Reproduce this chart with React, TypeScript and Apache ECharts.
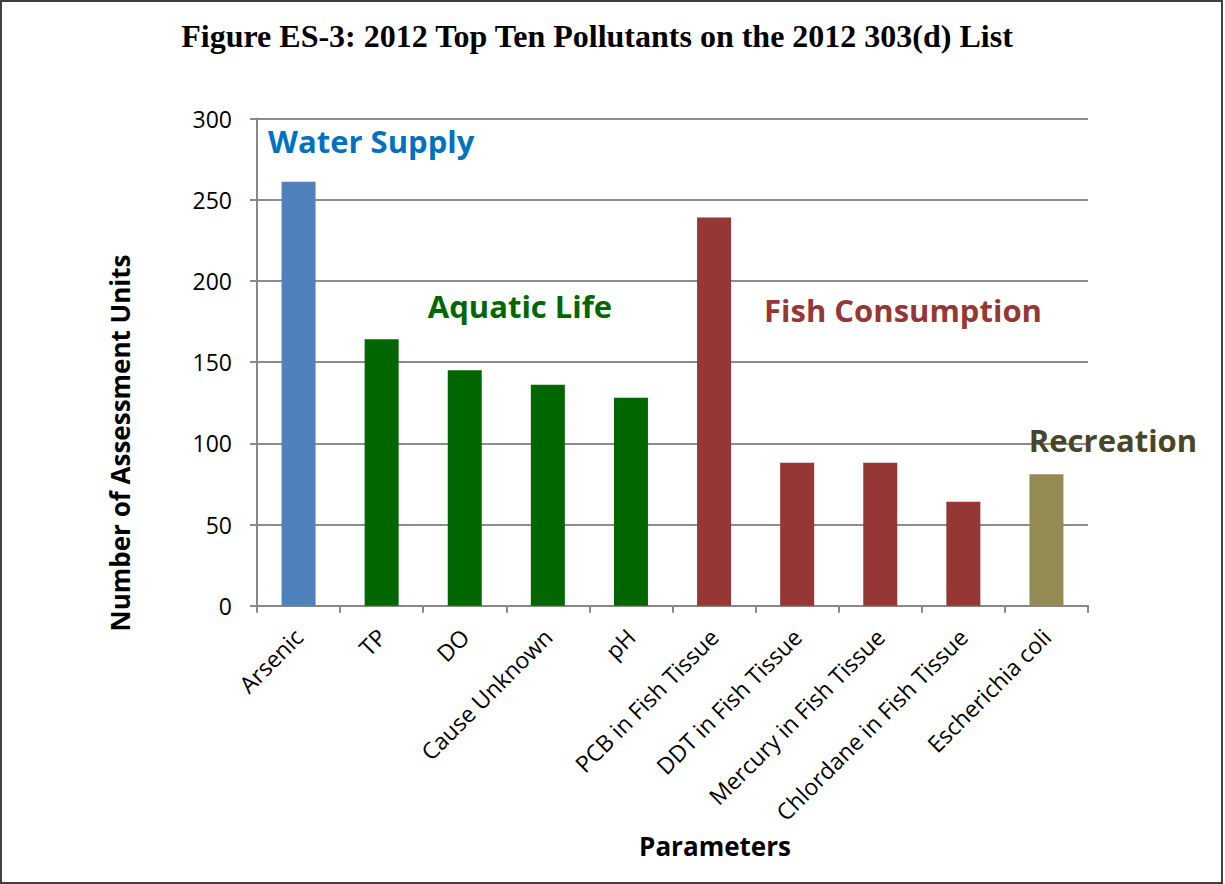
import React, { useEffect, useRef } from "react";
import * as echarts from "echarts";

// Pollutant categories on the 2012 303(d) list
const categories = [
  "Arsenic",
  "TP",
  "DO",
  "Cause Unknown",
  "pH",
  "PCB in Fish Tissue",
  "DDT in Fish Tissue",
  "Mercury in Fish Tissue",
  "Chlordane in Fish Tissue",
  "Escherichia coli",
];

// Number of assessment units listed for each pollutant
const assessmentUnits = [261, 164, 145, 136, 128, 239, 88, 88, 64, 81];

// Designated use impaired by each pollutant
const designatedUse = [
  "Water Supply",
  "Aquatic Life",
  "Aquatic Life",
  "Aquatic Life",
  "Aquatic Life",
  "Fish Consumption",
  "Fish Consumption",
  "Fish Consumption",
  "Fish Consumption",
  "Recreation",
];

const useGroups = ["Water Supply", "Aquatic Life", "Fish Consumption", "Recreation"];

// Value axis range
const yMin = 0;
const yMax = 300;
const yStep = 50;

const titleText = "Figure ES-3: 2012 Top Ten Pollutants on the 2012 303(d) List";
const yAxisTitle = "Number of Assessment Units";
const xAxisTitle = "Parameters";

const barColors: Record<string, string> = {
  "Water Supply": "#4F81BD",
  "Aquatic Life": "#006600",
  "Fish Consumption": "#953735",
  Recreation: "#948A54",
};

const groupTextColors: Record<string, string> = {
  "Water Supply": "#0070C0",
  "Aquatic Life": "#006600",
  "Fish Consumption": "#953735",
  Recreation: "#4A4526",
};

// Where each group heading sits on the canvas
const groupLabelPlacement: Record<string, { x: number; y: number; align: string }> = {
  "Water Supply": { x: 268, y: 141, align: "left" },
  "Aquatic Life": { x: 520, y: 306, align: "center" },
  "Fish Consumption": { x: 903, y: 310, align: "center" },
  Recreation: { x: 1113, y: 440, align: "center" },
};

const FONT = "'Open Sans', 'Noto Sans', sans-serif";

export default function App() {
  const ref = useRef<HTMLDivElement>(null);

  useEffect(() => {
    if (!ref.current) return;
    const chart = echarts.init(ref.current, null, { renderer: "svg" });

    const data = assessmentUnits.map((v, i) => ({
      value: v,
      itemStyle: { color: barColors[designatedUse[i]] },
    }));

    const groupLabels = useGroups.map((g) => ({
      type: "text",
      x: groupLabelPlacement[g].x,
      y: groupLabelPlacement[g].y,
      style: {
        text: g,
        fill: groupTextColors[g],
        font: `bold 31px ${FONT}`,
        align: groupLabelPlacement[g].align,
        verticalAlign: "middle",
      },
      z: 10,
    }));

    chart.setOption({
      animation: false,
      backgroundColor: "#ffffff",
      grid: {
        left: 257,
        right: 137,
        top: 118.5,
        bottom: 278.3,
        containLabel: false,
      },
      xAxis: {
        type: "category",
        data: categories,
        boundaryGap: true,
        axisLine: { show: true, lineStyle: { color: "#888888", width: 2 } },
        axisTick: { show: true, length: 7, lineStyle: { color: "#888888", width: 2 } },
        axisLabel: {
          interval: 0,
          rotate: 45,
          align: "right",
          verticalAlign: "middle",
          margin: 27,
          color: "#000000",
          fontFamily: FONT,
          fontSize: 23,
        },
        splitLine: { show: false },
      },
      yAxis: {
        type: "value",
        min: yMin,
        max: yMax,
        interval: yStep,
        axisLine: { show: true, lineStyle: { color: "#888888", width: 2 } },
        axisTick: { show: true, length: 7, lineStyle: { color: "#888888", width: 2 } },
        axisLabel: {
          margin: 25,
          color: "#000000",
          fontFamily: FONT,
          fontSize: 23,
        },
        splitLine: { show: true, lineStyle: { color: "#8C8C8C", width: 2 } },
      },
      series: [
        {
          type: "bar",
          data,
          barWidth: 34,
          silent: true,
        },
      ],
      graphic: [
        {
          type: "rect",
          shape: { x: 1, y: 1, width: 1221, height: 882 },
          style: { fill: "none", stroke: "#404040", lineWidth: 2 },
          z: 20,
        },
        {
          type: "text",
          x: 597,
          y: 36,
          style: {
            text: titleText,
            fill: "#000000",
            font: "bold 32px 'Liberation Serif', 'Times New Roman', serif",
            align: "center",
            verticalAlign: "middle",
          },
        },
        {
          type: "text",
          x: 120,
          y: 443,
          rotation: Math.PI / 2,
          style: {
            text: yAxisTitle,
            fill: "#000000",
            font: `bold 26px ${FONT}`,
            align: "center",
            verticalAlign: "middle",
          },
        },
        {
          type: "text",
          x: 715,
          y: 846,
          style: {
            text: xAxisTitle,
            fill: "#000000",
            font: `bold 26px ${FONT}`,
            align: "center",
            verticalAlign: "middle",
          },
        },
        ...groupLabels,
      ],
    });

    return () => chart.dispose();
  }, []);

  return (
    <div
      ref={ref}
      style={{ position: "absolute", left: 0, top: 0, width: 1225, height: 884 }}
    />
  );
}
